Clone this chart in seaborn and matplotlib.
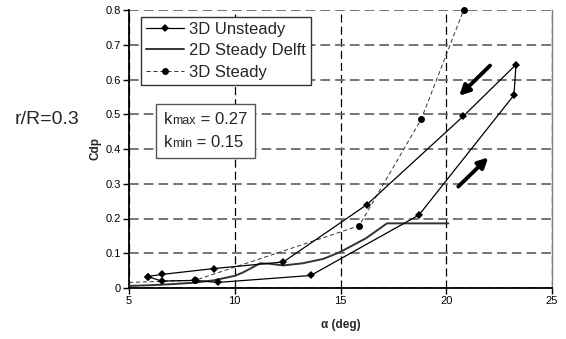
import matplotlib
matplotlib.use("Agg")
import matplotlib.pyplot as plt
import seaborn as sns
import pandas as pd
from matplotlib.offsetbox import TextArea, HPacker, VPacker, AnchoredOffsetbox

# ---- data ----
unsteady_alpha = [5.88, 6.54, 8.12, 9.19, 13.59, 18.71, 23.2, 23.3, 20.8, 16.25, 12.3, 9.02, 6.54, 5.88]
unsteady_cdp = [0.033, 0.020, 0.022, 0.016, 0.036, 0.210, 0.555, 0.643, 0.494, 0.240, 0.075, 0.056, 0.039, 0.033]

delft_alpha = [5.0, 6.0, 7.0, 8.0, 9.0, 10.0, 10.4, 11.2, 11.6, 12.3, 13.2, 14.2, 15.0, 16.2, 17.2, 20.1]
delft_cdp = [0.006, 0.008, 0.011, 0.015, 0.022, 0.035, 0.045, 0.071, 0.070, 0.065, 0.071, 0.084, 0.104, 0.143, 0.186, 0.186]

steady_alpha = [5.0, 8.12, 15.88, 18.82, 20.82]
steady_cdp = [0.016, 0.022, 0.179, 0.486, 0.800]

x_ticks = [5, 10, 15, 20, 25]
y_ticks = [0, 0.1, 0.2, 0.3, 0.4, 0.5, 0.6, 0.7, 0.8]
y_tick_labels = ["0", "0.1", "0.2", "0.3", "0.4", "0.5", "0.6", "0.7", "0.8"]

# ---- style ----
sns.set_theme(style="white")
plt.rcParams["font.family"] = ["Liberation Sans", "DejaVu Sans"]
plt.rcParams["lines.scale_dashes"] = False

W, H = 566, 339
fig = plt.figure(figsize=(W / 100, H / 100), dpi=100)
ax = fig.add_axes([129 / W, 1 - 288 / H, (552 - 129) / W, (288 - 10) / H])

df_u = pd.DataFrame({"alpha": unsteady_alpha, "cdp": unsteady_cdp})
df_d = pd.DataFrame({"alpha": delft_alpha, "cdp": delft_cdp})
df_s = pd.DataFrame({"alpha": steady_alpha, "cdp": steady_cdp})

sns.lineplot(data=df_u, x="alpha", y="cdp", sort=False, estimator=None, ax=ax,
             color="black", lw=0.9, marker="D", markersize=4.5, markeredgewidth=0,
             label="3D Unsteady", zorder=4)
sns.lineplot(data=df_d, x="alpha", y="cdp", sort=False, estimator=None, ax=ax,
             color="#333333", lw=1.4, label="2D Steady Delft", zorder=3)
sns.lineplot(data=df_s, x="alpha", y="cdp", sort=False, estimator=None, ax=ax,
             color="#333333", lw=0.7, marker="o", markersize=5, markeredgewidth=0,
             markevery=[1, 2, 3, 4], label="3D Steady", zorder=3)
ax.lines[-1].set_linestyle((0, (3, 2)))
ax.lines[-1].set_clip_on(False)
ax.lines[-1].set_markerfacecolor("black")

ax.set_xlim(5, 25)
ax.set_ylim(0, 0.8)
ax.set_xticks(x_ticks)
ax.set_xticklabels([str(t) for t in x_ticks])
ax.set_yticks(y_ticks)
ax.set_yticklabels(y_tick_labels)
ax.tick_params(axis="both", direction="out", length=4, width=1, colors="black",
               labelsize=8, pad=2, bottom=True, left=True)

# grid
ax.yaxis.grid(True, color="#6a6a6a", lw=1.3, linestyle=(0, (7, 3.6)))
ax.xaxis.grid(True, color="black", lw=0.9, linestyle=(0, (5.8, 2.9)))
ax.set_axisbelow(True)

for side in ["left", "bottom"]:
    ax.spines[side].set_color("black")
    ax.spines[side].set_linewidth(1.3)
ax.spines["top"].set_visible(False)
ax.spines["right"].set_color("#808080")
ax.spines["right"].set_linewidth(1.0)

ax.set_xlabel("α (deg)", fontsize=8.5, fontweight="bold")
ax.set_ylabel("Cdp", fontsize=8.5, fontweight="bold")
ax.xaxis.set_label_coords(0.5, -0.11)
ax.yaxis.set_label_coords(-0.064, 0.5)

# legend
leg = ax.legend(loc="upper left", bbox_to_anchor=(141 / W, 1 - 17 / H),
                bbox_transform=fig.transFigure, fontsize=12, frameon=True,
                fancybox=False, edgecolor="#333333", framealpha=1,
                borderaxespad=0, borderpad=0.3, handlelength=2.3,
                handletextpad=0.3, labelspacing=0.38)
leg.get_frame().set_linewidth(1.0)

# k box
def krow(sub, val):
    return HPacker(children=[TextArea("k", textprops=dict(fontsize=12)),
                             TextArea(sub, textprops=dict(fontsize=9)),
                             TextArea(" = " + val, textprops=dict(fontsize=12))],
                   align="baseline", pad=0, sep=0)

box = VPacker(children=[krow("max", "0.27"), krow("min", "0.15")],
              align="left", pad=0, sep=6)
anch = AnchoredOffsetbox(loc="upper left", child=box, pad=0.5, borderpad=0,
                         frameon=True, bbox_to_anchor=(156 / W, 1 - 104 / H),
                         bbox_transform=fig.transFigure)
anch.patch.set_edgecolor("#555555")
anch.patch.set_linewidth(1.0)
anch.patch.set_boxstyle("square", pad=0)
ax.add_artist(anch)

# arrows
arrow_props = dict(arrowstyle="-|>", lw=2.8, color="black", mutation_scale=15,
                   shrinkA=0, shrinkB=0)
ax.annotate("", xy=(20.61, 0.553), xytext=(22.07, 0.64), arrowprops=arrow_props)
ax.annotate("", xy=(21.99, 0.376), xytext=(20.57, 0.292), arrowprops=arrow_props)

fig.text(15 / W, 1 - 120 / H, "r/R=0.3", fontsize=14, va="center", ha="left")

fig.savefig("out.png", dpi=100)
